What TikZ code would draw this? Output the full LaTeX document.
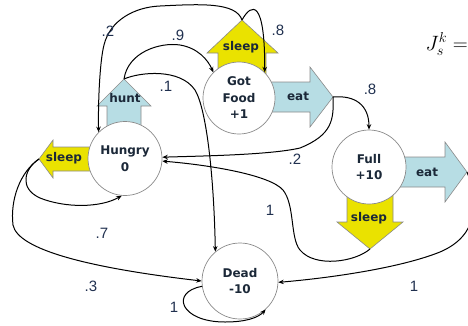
\documentclass[tikz,border=0pt]{standalone}
\usepackage{fontspec}
\setmainfont{Liberation Sans}
\newfontfamily\tahomalike{DejaVu Sans}
\usetikzlibrary{arrows.meta}
\definecolor{ylw}{HTML}{EAE200}
\definecolor{lblue}{HTML}{B7DDE4}
\definecolor{navy}{HTML}{1B2838}
\definecolor{lblc}{HTML}{20304F}
\definecolor{edge}{HTML}{8A8A8A}
\begin{document}
\begin{tikzpicture}[x=1pt,y=-1pt,
  state/.style={circle,draw=edge,line width=0.7pt,fill=white,inner sep=0pt,align=center,
    font=\tahomalike\bfseries\fontsize{12}{16.5}\selectfont,text=navy},
  blk/.style={draw=edge,line width=0.6pt},
  act/.style={font=\tahomalike\bfseries\fontsize{12}{14}\selectfont,text=navy,inner sep=0pt},
  conn/.style={line width=1pt,-{Stealth[length=5.5pt,width=4.5pt]}},
  prob/.style={font=\fontsize{15}{17}\selectfont,text=lblc,inner sep=0pt}]
\useasboundingbox (0,0) rectangle (468,325);

% block arrows
\fill[lblue,blk] (107,132) -- (107,106) -- (97,106) -- (124,79) -- (151,106) -- (141,106) -- (141,132) -- cycle;
\fill[ylw,blk] (100,147) -- (53,147) -- (53,140) -- (39,159) -- (53,178) -- (53,171) -- (100,171) -- cycle;
\fill[ylw,blk] (218,80) -- (218,53) -- (207,53) -- (242,20) -- (278,53) -- (266,53) -- (266,80) -- cycle;
\fill[lblue,blk] (250,82) -- (310,82) -- (310,67) -- (333,97) -- (310,127) -- (310,112) -- (250,112) -- cycle;
\fill[lblue,blk] (390,157) -- (445,157) -- (445,142) -- (467,172) -- (445,202) -- (445,187) -- (390,187) -- cycle;
\fill[ylw,blk] (347,180) -- (347,222) -- (337,222) -- (370,249) -- (403,222) -- (393,222) -- (393,180) -- cycle;

\coordinate (huntTip) at (124,79);
\coordinate (hsTip) at (39,159);
\coordinate (fsTip) at (242,20);
\coordinate (feTip) at (333,97);
\coordinate (fleTip) at (467,172);
\coordinate (flsTip) at (370,249);

% states
\node[state,minimum size=74pt] (hungry) at (125,158.5) {Hungry\\0};
\node[state,minimum size=72pt] (food) at (239,98) {Got\\Food\\+1};
\node[state,minimum size=74pt] (full) at (369,167) {Full\\+10};
\node[state,minimum size=76pt] (dead) at (240,281) {Dead\\-10};

% action labels
\node[act] (lhunt) at (125,98) {hunt};
\node[act] (lhs) at (64,158) {sleep};
\node[act] (lfs) at (241,47) {sleep};
\node[act] (lfe) at (298,96) {eat};
\node[act] (lfle) at (427,172) {eat};
\node[act] (lfls) at (369,218) {sleep};

% connectors
\draw[conn] (fsTip) .. controls (252,2) and (265,0) .. (food.45);
\draw[conn] (fsTip) .. controls (236,2) and (200,4) .. (160,6) .. controls (135,7) and (110,20) .. (104,45) .. controls (100,60) and (98,100) .. (hungry.135);
\draw[conn] (huntTip) .. controls (128,52) and (160,42) .. (180,45) .. controls (198,48) and (208,60) .. (food.135);
\draw[conn] (huntTip) .. controls (140,72) and (180,68) .. (195,90) .. controls (207,110) and (214,180) .. (dead.130);
\draw[conn] (feTip) .. controls (355,95) and (369,105) .. (full.north);
\draw[conn] (feTip) .. controls (334,120) and (332,135) .. (300,148) .. controls (270,155) and (200,156) .. (hungry.2);
\draw[conn] (hsTip) .. controls (25,168) and (18,188) .. (40,198) .. controls (65,208) and (100,208) .. (hungry.265);
\draw[conn] (hsTip) .. controls (20,172) and (10,200) .. (13,225) .. controls (18,250) and (90,268) .. (dead.west);
\draw[conn] (flsTip) .. controls (355,262) and (315,268) .. (300,250) .. controls (290,238) and (295,205) .. (283,190) .. controls (270,175) and (210,165) .. (hungry.-4);
\draw[conn] (fleTip) .. controls (478,200) and (480,235) .. (440,252) .. controls (400,268) and (330,278) .. (dead.-2);
\draw[conn] (dead.188) .. controls (170,292) and (180,322) .. (225,322) .. controls (245,322) and (258,318) .. (dead.-48);

% probabilities
\node[prob] (p1) at (108,31) {.2};
\node[prob] (p2) at (178,35) {.9};
\node[prob] (p3) at (278,30) {.8};
\node[prob] (p4) at (166,86) {.1};
\node[prob] (p5) at (370,89) {.8};
\node[prob] (p6) at (295,159) {.2};
\node[prob] (p7) at (270,210) {1};
\node[prob] (p8) at (102,233) {.7};
\node[prob] (p9) at (91,286) {.3};
\node[prob] (p10) at (414,286) {1};
\node[prob] (p11) at (174,307) {1};

% formula
\node[anchor=base east,inner sep=0pt,font=\fontsize{22}{26}\selectfont] (formula) at (468,50) {$J_s^k =$};
\end{tikzpicture}
\end{document}
